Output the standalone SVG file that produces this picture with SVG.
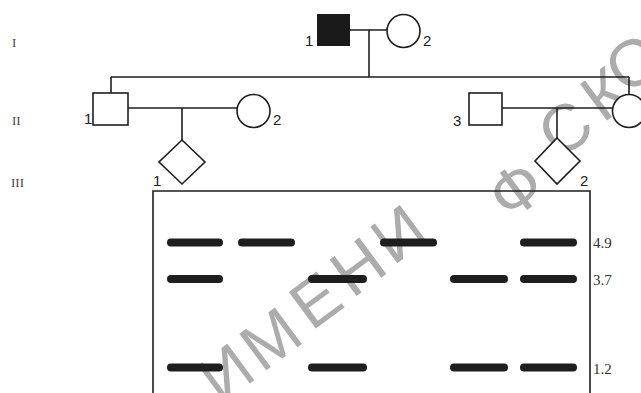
<svg xmlns="http://www.w3.org/2000/svg" width="641" height="393" viewBox="0 0 641 393">
<style>
.ln{stroke:#1e1e1e;stroke-width:1.6;fill:none}
.sym{stroke:#1e1e1e;stroke-width:1.6;fill:#fff}
.num{font-family:"Liberation Sans",Arial,sans-serif;font-size:15px;fill:#222}
.gen{font-family:"Liberation Serif","Times New Roman",serif;font-size:13px;fill:#444}
.kb{font-family:"Liberation Serif","Times New Roman",serif;font-size:15px;fill:#333}
.band{fill:#1e1e1e}
.wm{font-family:"Liberation Sans",Arial,sans-serif;font-size:66px;fill:#acacac}
</style>
<rect width="641" height="393" fill="#fff"/>
<text class="wm" transform="rotate(-36.5)" text-anchor="middle" x="-40 16 75 129 181 245 302 340 378 430 472" y="457 456 452 450 448 465 482 470 462 458 450">ИМЕНИ Ф СКО</text>
<g id="generation-labels">
<text class="gen" x="12" y="47">I</text>
<text class="gen" x="12" y="125">II</text>
<text class="gen" x="11" y="187">III</text>
</g>
<g id="connectors">
<path class="ln" d="M350 30H387"/>
<path class="ln" d="M369 30V77"/>
<path class="ln" d="M111 77H629"/>
<path class="ln" d="M111 77V93"/>
<path class="ln" d="M629 77V95"/>
<path class="ln" d="M128 108H237"/>
<path class="ln" d="M182 108V140"/>
<path class="ln" d="M502 108H612"/>
<path class="ln" d="M557 108V138"/>
</g>
<g id="I-1"><rect x="317" y="14" width="33" height="32" fill="#1a1a1a"/><text class="num" x="305" y="46">1</text></g>
<g id="I-2"><circle class="sym" cx="403.5" cy="31" r="16.5"/><text class="num" x="423" y="46">2</text></g>
<g id="II-1"><rect class="sym" x="93" y="93" width="35" height="32"/><text class="num" x="84" y="124">1</text></g>
<g id="II-2"><circle class="sym" cx="253.5" cy="111" r="16.5"/><text class="num" x="273" y="125">2</text></g>
<g id="II-3"><rect class="sym" x="469" y="93" width="33" height="32"/><text class="num" x="453" y="126">3</text></g>
<g id="II-4"><circle class="sym" cx="629" cy="111" r="16.5"/></g>
<g id="III-1"><path class="sym" d="M182 140L205 162L182 184L159 162Z"/><text class="num" x="153" y="186">1</text></g>
<g id="III-2"><path class="sym" d="M557 138L580 161L557 184L535 161Z"/><text class="num" x="580" y="186">2</text></g>
<g id="gel">
<path class="ln" d="M153 393V191H590V393"/>
<g class="band">
<rect x="167" y="238.5" width="56" height="8" rx="4"/>
<rect x="238" y="238.5" width="57" height="8" rx="4"/>
<rect x="380" y="238.5" width="57" height="8" rx="4"/>
<rect x="520" y="238.5" width="57" height="8" rx="4"/>
<rect x="167" y="275" width="56" height="8" rx="4"/>
<rect x="308" y="275" width="59" height="8" rx="4"/>
<rect x="450" y="275" width="58" height="8" rx="4"/>
<rect x="520" y="275" width="57" height="8" rx="4"/>
<rect x="167" y="363.5" width="56" height="8" rx="4"/>
<rect x="308" y="363.5" width="59" height="8" rx="4"/>
<rect x="450" y="363.5" width="58" height="8" rx="4"/>
<rect x="520" y="363.5" width="57" height="8" rx="4"/>
</g>
<text class="kb" x="593" y="248">4.9</text>
<text class="kb" x="593" y="285">3.7</text>
<text class="kb" x="593" y="374">1.2</text>
</g>
</svg>
